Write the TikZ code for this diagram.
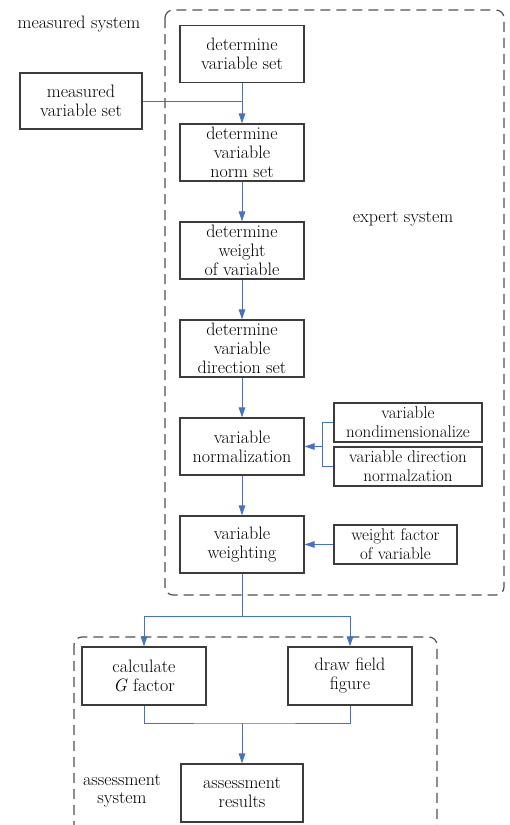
\documentclass[tikz,border=0pt]{standalone}
\usepackage{fontspec}
\usetikzlibrary{arrows.meta}
\definecolor{lineblue}{HTML}{4472C4}
\definecolor{boxgray}{HTML}{3C3C3C}
\begin{document}
\begin{tikzpicture}[x=1pt,y=-1pt,
	box/.style={draw=boxgray,line width=1.2pt,minimum width=124pt,minimum height=57pt,inner sep=0.5pt,align=center,text=black,font=\fontsize{18}{19}\selectfont},
	sidebox/.style={box,minimum height=39pt,font=\fontsize{17}{19}\selectfont},
	label/.style={align=center,text=black,font=\fontsize{18}{18}\selectfont},
	link/.style={draw=lineblue,line width=1pt},
	arrow/.style={link,-{Triangle[length=10pt,width=6.5pt]}},
	frame/.style={draw=boxgray!90,line width=1.2pt,dash pattern=on 10pt off 6pt,rounded corners=8pt}]
		\useasboundingbox (0,0) rectangle (509,825);
		\draw[frame] (165,10) rectangle (504,595);
		\draw[frame] (74,637) rectangle (437,834);
		\node[label] (msys) at (79,24) {measured system};
		\node[label] (esys) at (403,219) {expert system};
		\node[label] (asys) at (122,791) {assessment\\system};
		\node[box] (varset) at (242,54) {determine\\variable set};
		\node[box,minimum width=122pt,minimum height=56pt] (measured) at (81,101) {measured\\variable set};
		\node[box] (normset) at (242,152.5) {determine\\variable\\norm set};
		\node[box] (weightset) at (242,250.5) {determine\\weight\\of variable};
		\node[box] (dirset) at (242,348.5) {determine\\variable\\direction set};
		\node[box] (normal) at (242,446.5) {variable\\normalization};
		\node[box] (weighting) at (242,544.5) {variable\\weighting};
		\node[sidebox,minimum width=148pt] (nondim) at (408,422.5) {variable\\nondimensionalize};
		\node[sidebox,minimum width=148pt] (dirnorm) at (408,466.5) {variable direction\\normalzation};
		\node[sidebox,minimum width=123pt] (wfactor) at (395.5,544.5) {weight factor\\of variable};
		\node[box,minimum height=58pt] (gfactor) at (144,676) {calculate\\\textit{G} factor};
		\node[box,minimum height=58pt] (field) at (350,676) {draw field\\figure};
		\node[box,minimum width=122pt,minimum height=58pt] (results) at (242,793) {assessment\\results};
		\draw[link] (measured.east) -- (measured.east -| varset.south);
		\draw[arrow] (varset) -- (normset);
		\draw[arrow] (normset) -- (weightset);
		\draw[arrow] (weightset) -- (dirset);
		\draw[arrow] (dirset) -- (normal);
		\draw[arrow] (normal) -- (weighting);
		\draw[link] (nondim.west) -- ++(-11,0) coordinate (brk) |- (dirnorm.west);
		\draw[arrow] (brk |- normal.east) -- (normal.east);
		\draw[arrow] (wfactor) -- (weighting);
		\coordinate (split) at (242,616);
		\coordinate (merge) at (242,723);
		\draw[link] (weighting.south) -- (split);
		\draw[arrow] (split) -| (gfactor.north);
		\draw[arrow] (split) -| (field.north);
		\draw[link] (gfactor.south) |- (merge) -| (field.south);
		\draw[arrow] (merge) -- (results.north);
	\end{tikzpicture}
\end{document}
